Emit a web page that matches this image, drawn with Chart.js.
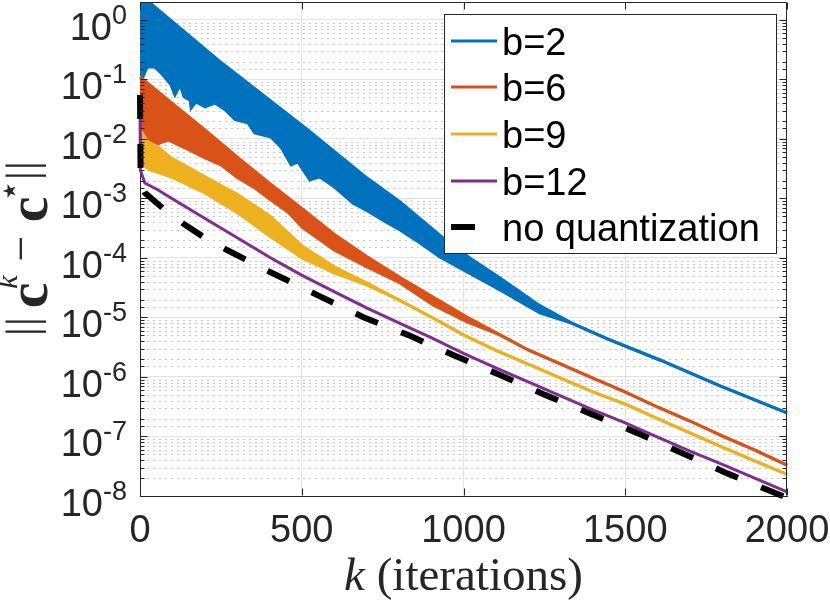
<!DOCTYPE html>
<html>
<head>
<meta charset="utf-8">
<script src="https://cdn.jsdelivr.net/npm/chart.js@4.4.0/dist/chart.umd.min.js"></script>
<style>
  html, body { margin: 0; padding: 0; background: #fff; }
  canvas { display: block; background: #fff; }
</style>
</head>
<body>
<canvas id="myChart" width="830" height="603"></canvas>
<script>
// error ||c^k - c*|| against iteration k
// b=2 and b=6 / b=9 oscillate: kept as upper and lower envelope of the band
var b2HiK = [0, 31, 241, 519, 702, 804, 937, 1029, 1113, 1236, 1338, 1443, 1607, 1793, 2000];
var b2HiV = [2.1, 1.93, 0.213, 0.0142, 2.2e-3, 8.7e-4, 2.17e-4, 9.2e-5, 4.6e-5, 1.58e-5, 7.9e-6, 4.4e-6, 1.93e-6, 7.1e-7, 2.5e-7];
var b2LoK = [0, 9, 22, 46, 71, 96, 108, 124, 136, 155, 158, 173, 201, 232, 263, 294, 334, 355, 405, 436, 467, 488,
             525, 556, 597, 658, 702, 764, 804, 866, 927, 1011, 1113, 1236, 1338, 1443, 1607, 1793, 2000];
var b2LoV = [0.11, 0.11, 0.162, 0.162, 0.119, 0.081, 0.055, 0.081, 0.051, 0.045, 0.033, 0.042, 0.0345, 0.040, 0.031,
             0.021, 0.0186, 0.0126, 0.0108, 7.3e-3, 3.66e-3, 4.1e-3, 2.05e-3, 2.3e-3, 1.62e-3, 8.4e-4, 6.2e-4, 3.9e-4,
             2.96e-4, 1.79e-4, 1.04e-4, 5.8e-5, 2.9e-5, 1.19e-5, 7.9e-6, 4.4e-6, 1.93e-6, 7.1e-7, 2.5e-7];

var b6HiK = [0, 99, 201, 300, 399, 501, 600, 702, 804, 906, 1011, 1113, 1200, 1301, 1400, 1499, 1601, 1700, 1799, 1901, 2000];
var b6HiV = [0.110, 0.040, 0.0142, 5.0e-3, 1.82e-3, 6.7e-4, 2.5e-4, 1.05e-4, 4.7e-5, 2.2e-5, 1.02e-5, 5.1e-6, 2.84e-6,
             1.65e-6, 9.6e-7, 5.6e-7, 3.1e-7, 1.82e-7, 1.02e-7, 5.9e-8, 3.3e-8];
var b6LoK = [0, 34, 62, 87, 127, 201, 250, 303, 355, 405, 457, 501, 600, 702, 804, 906, 1011, 1113, 1200, 1301, 1400,
             1499, 1601, 1700, 1799, 1901, 2000];
var b6LoV = [0.0117, 7.3e-3, 8.6e-3, 9.6e-3, 7.6e-3, 4.8e-3, 3.66e-3, 2.2e-3, 1.5e-3, 9.4e-4, 5.9e-4, 3.3e-4, 1.36e-4,
             7.1e-5, 3.8e-5, 1.62e-5, 8.4e-6, 5.1e-6, 2.84e-6, 1.65e-6, 9.6e-7, 5.6e-7, 3.1e-7, 1.82e-7, 1.02e-7, 5.9e-8, 3.3e-8];

var b9HiK = [0, 25, 56, 96, 201, 303, 405, 501, 600, 702, 800, 900, 1000, 1100, 1200, 1300, 1400, 1500, 1600, 1700, 1800, 1900, 2000];
var b9HiV = [0.0142, 8.9e-3, 7.3e-3, 4.8e-3, 2.3e-3, 1.15e-3, 4.9e-4, 1.59e-4, 7.1e-5, 3.8e-5, 1.97e-5, 1.02e-5, 5.1e-6,
             2.8e-6, 1.65e-6, 9.6e-7, 5.6e-7, 3.5e-7, 2.0e-7, 1.15e-7, 6.6e-8, 3.9e-8, 2.3e-8];
var b9LoK = [0, 9, 34, 96, 201, 303, 405, 501, 600, 702, 800, 900, 1000, 1100, 1200, 1300, 1400, 1500, 1600, 1700, 1800, 1900, 2000];
var b9LoV = [3.3e-3, 3.66e-3, 3.0e-3, 2.3e-3, 1.24e-3, 5.7e-4, 2.25e-4, 1.0e-4, 5.6e-5, 3.5e-5, 1.97e-5, 1.02e-5, 5.1e-6,
             2.8e-6, 1.65e-6, 9.6e-7, 5.6e-7, 3.5e-7, 2.0e-7, 1.15e-7, 6.6e-8, 3.9e-8, 2.3e-8];

var b12K = [0, 1, 15, 56, 96, 201, 303, 402, 501, 600, 702, 800, 900, 1000, 1100, 1200, 1300, 1400, 1500, 1600, 1700, 1800, 1900, 2000];
var b12V = [0.045, 3.0e-3, 1.82e-3, 1.39e-3, 1.02e-3, 4.6e-4, 2.14e-4, 1.02e-4, 5.1e-5, 2.72e-5, 1.44e-5, 8.1e-6, 4.6e-6,
            2.5e-6, 1.42e-6, 8.3e-7, 4.8e-7, 2.8e-7, 1.7e-7, 9.8e-8, 5.7e-8, 3.4e-8, 2.0e-8, 1.17e-8];

var noqK = [0, 2, 15, 77, 139, 201, 269, 340, 402, 473, 547, 689, 828, 968, 1113, 1252, 1394, 1536, 1675, 1815, 2000];
var noqV = [0.055, 1.69e-3, 1.24e-3, 6.4e-4, 3.6e-4, 2.17e-4, 1.36e-4, 8.6e-5, 5.8e-5, 3.8e-5, 2.4e-5, 1.02e-5, 5.1e-6,
            2.34e-6, 1.08e-6, 5.0e-7, 2.4e-7, 1.15e-7, 5.3e-8, 2.4e-8, 9.3e-9];

var seriesNames = ['b=2', 'b=6', 'b=9', 'b=12', 'no quantization'];
var xTicks = [0, 500, 1000, 1500, 2000];
var yExponents = [-8, -7, -6, -5, -4, -3, -2, -1, 0];

var BLUE = '#0072BD', ORANGE = '#D95319', YELLOW = '#EDB120', PURPLE = '#7E2F8E', AX = '#262626';

function pts(ks, vs) {
    return ks.map(function (k, i) { return { x: k, y: vs[i] }; });
}

function isDecade(v) {
    var l = Math.log10(v);
    return Math.abs(l - Math.round(l)) < 1e-6;
}

var CLIP = { left: 6, top: 0, right: 6, bottom: 6 };

function line(label, ks, vs, color, order, extra) {
    var d = {
        label: label, data: pts(ks, vs), borderColor: color, backgroundColor: color,
        borderWidth: 3, pointRadius: 0, tension: 0, fill: false, order: order, clip: CLIP,
        inLegend: true
    };
    for (var p in extra) d[p] = extra[p];
    return d;
}

var datasets = [
    line(seriesNames[0], b2HiK, b2HiV, BLUE, 5),
    line(seriesNames[0], b2LoK, b2LoV, BLUE, 5, { fill: '-1', inLegend: false }),
    line(seriesNames[1], b6HiK, b6HiV, ORANGE, 4),
    line(seriesNames[1], b6LoK, b6LoV, ORANGE, 4, { fill: '-1', inLegend: false }),
    line(seriesNames[2], b9HiK, b9HiV, YELLOW, 3),
    line(seriesNames[2], b9LoK, b9LoV, YELLOW, 3, { fill: '-1', inLegend: false }),
    line(seriesNames[3], b12K, b12V, PURPLE, 2),
    line(seriesNames[4], noqK, noqV, '#000000', 1, { borderWidth: 6, borderDash: [24, 25] })
];

// MATLAB look: box, inward ticks, dotted minor grid, superscript labels, legend
var matlabAxes = {
    id: 'matlabAxes',
    beforeDatasetsDraw: function (chart) {
        var ctx = chart.ctx, a = chart.chartArea, ys = chart.scales.y;
        ctx.save();
        ctx.strokeStyle = 'rgba(38,38,38,0.26)';
        ctx.lineWidth = 1;
        ctx.setLineDash([2, 4]);
        ys.ticks.forEach(function (t) {
            if (isDecade(t.value) || t.value > 1) return;
            var y = Math.round(ys.getPixelForValue(t.value)) + 0.5;
            ctx.beginPath(); ctx.moveTo(a.left + 1, y); ctx.lineTo(a.right, y); ctx.stroke();
        });
        ctx.restore();
    },
    afterDatasetsDraw: function (chart) {
        var ctx = chart.ctx, a = chart.chartArea, xs = chart.scales.x, ys = chart.scales.y;
        ctx.save();
        ctx.strokeStyle = AX;
        ctx.lineWidth = 1;
        var top = Math.round(a.top) + 0.5, right = Math.round(a.right) - 0.5;
        var left = Math.round(a.left) + 0.5, bottom = Math.round(a.bottom) - 0.5;
        ctx.beginPath();
        ctx.moveTo(left, top); ctx.lineTo(right, top); ctx.lineTo(right, bottom);
        ctx.stroke();
        xTicks.forEach(function (v) {
            var x = Math.round(xs.getPixelForValue(v)) + 0.5;
            ctx.beginPath();
            ctx.moveTo(x, bottom); ctx.lineTo(x, bottom - 7);
            ctx.moveTo(x, top); ctx.lineTo(x, top + 7);
            ctx.stroke();
        });
        ys.ticks.forEach(function (t) {
            if (t.value > 1) return;
            var y = Math.round(ys.getPixelForValue(t.value)) + 0.5;
            var len = isDecade(t.value) ? 7 : 4;
            ctx.beginPath();
            ctx.moveTo(left, y); ctx.lineTo(left + len, y);
            ctx.moveTo(right, y); ctx.lineTo(right - len, y);
            ctx.stroke();
        });
        ctx.restore();
    },
    afterDraw: function (chart) {
        var ctx = chart.ctx, a = chart.chartArea, ys = chart.scales.y;
        ctx.save();
        ctx.fillStyle = AX;
        ctx.textAlign = 'right';
        ctx.textBaseline = 'alphabetic';
        // y tick labels 10^n
        yExponents.forEach(function (n) {
            var y = ys.getPixelForValue(Math.pow(10, n));
            var sup = String(n);
            ctx.font = '27px "Liberation Sans"';
            var w = ctx.measureText(sup).width;
            ctx.fillText(sup, 127, y + 4);
            ctx.font = '38px "Liberation Sans"';
            ctx.fillText('10', 127 - w, y + 20);
        });

        // x axis title
        ctx.fillStyle = '#262626';
        ctx.textAlign = 'left';
        var fk = 'italic 47px "Liberation Serif"', fr = '47px "Liberation Serif"';
        ctx.font = fk; var wk = ctx.measureText('k').width;
        ctx.font = fr; var wr = ctx.measureText(' (iterations)').width;
        var x0 = (a.left + a.right) / 2 - (wk + wr) / 2;
        ctx.font = fk; ctx.fillText('k', x0, 590);
        ctx.font = fr; ctx.fillText(' (iterations)', x0 + wk, 590);

        // y axis title ||c^k - c*||, rotated
        ctx.save();
        ctx.translate(47, 333);
        ctx.rotate(-Math.PI / 2);
        ctx.textAlign = 'center';
        function put(t, along, yb, font, base) {
            ctx.font = font;
            ctx.textBaseline = base || 'alphabetic';
            ctx.fillText(t, along, yb);
        }
        var bar = '44px "Liberation Serif"';
        put('|', 1.5, -9.6, bar);
        put('|', 11.5, -9.6, bar);
        put('c', 37.5, 0, 'bold 58px "Liberation Serif"');
        put('k', 51, -30, 'italic 30px "Liberation Serif"');
        put('\u2212', 84.5, -11.5, '46px "Liberation Serif"');
        put('c', 123.5, 0, 'bold 58px "Liberation Serif"');
        put('\u22C6', 142, -35, '36px "DejaVu Sans"', 'middle');
        put('|', 157.5, -9.6, bar);
        put('|', 167.5, -9.6, bar);
        ctx.restore();

        // legend
        var bx = 444.5, by = 14.5, bw = 332, bh = 239;
        ctx.fillStyle = '#ffffff';
        ctx.fillRect(bx, by, bw, bh);
        ctx.strokeStyle = AX;
        ctx.lineWidth = 1;
        ctx.strokeRect(bx, by, bw, bh);
        var rows = [41, 87, 134, 181, 227];
        var items = chart.data.datasets.filter(function (d) { return d.inLegend; });
        items.forEach(function (d, i) {
            var cy = rows[i];
            ctx.save();
            ctx.strokeStyle = d.borderColor;
            ctx.lineWidth = d.borderWidth;
            ctx.setLineDash(d.borderDash || []);
            ctx.beginPath(); ctx.moveTo(451, cy); ctx.lineTo(497, cy); ctx.stroke();
            ctx.restore();
            ctx.fillStyle = '#000';
            ctx.font = '38px "Liberation Sans"';
            ctx.textAlign = 'left';
            ctx.textBaseline = 'alphabetic';
            ctx.fillText(d.label, 502, cy + 13.5);
        });
        ctx.restore();
    }
};

var ctx = document.getElementById('myChart');
var myChart = new Chart(ctx, {
    type: 'line',
    data: { datasets: datasets },
    options: {
        responsive: false,
        animation: false,
        events: [],
        layout: { padding: { left: 0, top: 2, right: 43, bottom: 0 } },
        scales: {
            x: {
                type: 'linear', min: 0, max: 2000,
                ticks: {
                    stepSize: 500, autoSkip: false, maxRotation: 0, padding: 13,
                    color: AX, font: { family: 'Liberation Sans', size: 38 },
                    callback: function (v) { return String(v); }
                },
                grid: {
                    drawTicks: false, lineWidth: 1,
                    color: function (c) {
                        if (!c.tick || c.tick.value === 0 || c.tick.value === 2000) return 'rgba(0,0,0,0)';
                        return 'rgba(38,38,38,0.13)';
                    }
                },
                border: { color: AX, width: 1 },
                afterFit: function (s) { s.height = 107; s.paddingLeft = 0; s.paddingRight = 0; }
            },
            y: {
                type: 'logarithmic', min: 1e-8, max: 2,
                ticks: { display: false },
                grid: {
                    drawTicks: false, lineWidth: 1,
                    color: function (c) {
                        if (!c.tick || !isDecade(c.tick.value) || c.tick.value >= 1.5) return 'rgba(0,0,0,0)';
                        return 'rgba(38,38,38,0.13)';
                    }
                },
                border: { color: AX, width: 1 },
                afterFit: function (s) { s.width = 140; }
            }
        },
        plugins: {
            legend: { display: false },
            tooltip: { enabled: false }
        }
    },
    plugins: [matlabAxes]
});
</script>
</body>
</html>
